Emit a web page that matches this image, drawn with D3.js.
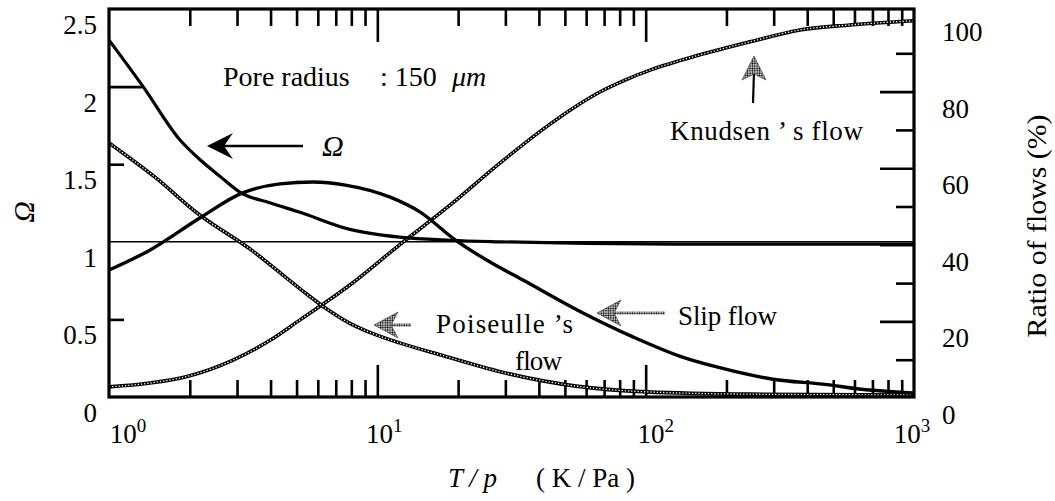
<!DOCTYPE html>
<html>
<head>
<meta charset="utf-8">
<script src="https://cdn.jsdelivr.net/npm/d3@7"></script>
<style>
  html, body { margin: 0; padding: 0; background: #fff; }
  svg { display: block; }
</style>
</head>
<body>
<svg id="chart" width="1055" height="501"></svg>
<script>
// ---------------- DATA ----------------
// x values: T/p (K/Pa), log scale
const xTickValues = [1, 10, 100, 1000];
const xTickExponents = ["0", "1", "2", "3"];
const yLeftTickLabels = [0, 0.5, 1, 1.5, 2, 2.5];
const yRightTickLabels = [0, 20, 40, 60, 80, 100];

// Omega (left axis)
const omegaTp  = [1, 1.34, 1.84, 2.18, 2.6, 3.07, 4.0, 5.15, 7.9, 12.1, 18.7, 28.7, 60, 150, 400, 1000];
const omegaVal = [2.30, 2.00, 1.656, 1.53, 1.42, 1.32, 1.25, 1.19, 1.08, 1.03, 1.01, 1.00, 0.99, 0.985, 0.985, 0.985];

// Slip flow ratio (%), right axis
const slipTp  = [1, 1.42, 2.18, 3.13, 4.34, 5.76, 7.6, 11.1, 14.4, 19.5, 26.3, 34.9, 58.4, 90, 138, 184, 298, 474, 613, 943, 1000];
const slipVal = [33.4, 38.6, 47, 53.5, 55.9, 56.4, 55.6, 52.5, 48.6, 41.3, 35.5, 30.8, 22.2, 15.9, 10.6, 8.1, 4.9, 3.5, 2.4, 1.4, 1.3];

// Knudsen's flow ratio (%), right axis
const knudTp  = [1, 1.42, 1.97, 2.9, 3.97, 5.15, 7.9, 12.1, 18.7, 28.7, 44, 54.5, 67.5, 83.8, 103.8, 159.4, 244.8, 376, 577.6, 1000];
const knudVal = [2.9, 3.9, 5.7, 9.9, 15, 20.4, 29.5, 40, 50.4, 61.4, 71.5, 76, 79.9, 83, 85.6, 89.6, 93, 96.1, 97.4, 98.5];

// Poiseuille's flow ratio (%), right axis
const poisTp  = [1, 1.5, 2.13, 3.4, 5.15, 6.4, 7.9, 9.8, 12.1, 17.1, 31, 55, 101, 245, 1000];
const poisVal = [66.6, 57.4, 48.3, 38.6, 28.5, 23.5, 19.5, 16.6, 14.4, 11.3, 6.3, 3.1, 1.6, 1.0, 0.8];

// ---------------- LAYOUT ----------------
const FONT = "Liberation Serif";
const svg = d3.select("#chart");
const L = 109, R = 914, T = 9, B = 397;
const x  = d3.scaleLog().domain([1, 1000]).range([L, R]);
const yL = d3.scaleLinear().domain([0, 2.5]).range([B, T]);
const yR = d3.scaleLinear().domain([0, 100]).range([398, 15]);

function txt(xp, yp, size) {
  return svg.append("text").attr("x", xp).attr("y", yp)
    .attr("font-family", FONT).attr("font-size", size).attr("fill", "#000");
}

// patterns
const defs = svg.append("defs");
const pat = defs.append("pattern").attr("id", "dots")
  .attr("width", 2.4).attr("height", 2.4).attr("patternUnits", "userSpaceOnUse");
pat.append("rect").attr("width", 2.4).attr("height", 2.4).attr("fill", "#fff");
pat.append("circle").attr("cx", 1.2).attr("cy", 1.2).attr("r", 0.95).attr("fill", "#000");

// ticks via d3 axes (inward)
const minorX = [];
[1, 10, 100].forEach(d => { for (let k = 2; k <= 9; k++) minorX.push(d * k); });
const majorX = [10, 100];

function styleAxis(g) {
  g.select(".domain").remove();
  g.selectAll("line").attr("stroke", "#000").attr("stroke-width", 2.6);
  g.selectAll("text").remove();
}
svg.append("g").attr("transform", `translate(0,${B})`)
  .call(d3.axisBottom(x).tickValues(minorX).tickSize(-17).tickFormat("")).call(styleAxis);
svg.append("g").attr("transform", `translate(0,${B})`)
  .call(d3.axisBottom(x).tickValues(majorX).tickSize(-32).tickFormat("")).call(styleAxis);
svg.append("g").attr("transform", `translate(0,${T})`)
  .call(d3.axisTop(x).tickValues(minorX).tickSize(-17).tickFormat("")).call(styleAxis);
svg.append("g").attr("transform", `translate(0,${T})`)
  .call(d3.axisTop(x).tickValues(majorX).tickSize(-33).tickFormat("")).call(styleAxis);

svg.append("g").attr("transform", `translate(${L},0)`)
  .call(d3.axisLeft(yL).tickValues([0.5, 1.5]).tickSize(-15).tickFormat("")).call(styleAxis);
svg.append("g").attr("transform", `translate(${L},0)`)
  .call(d3.axisLeft(yL).tickValues([2]).tickSize(-33).tickFormat("")).call(styleAxis);

svg.append("g").attr("transform", `translate(${R},0)`)
  .call(d3.axisRight(yR).tickValues([10, 30, 50, 70, 90]).tickSize(-18).tickFormat("")).call(styleAxis);
svg.append("g").attr("transform", `translate(${R},0)`)
  .call(d3.axisRight(yR).tickValues([20, 40, 60, 80]).tickSize(-34).tickFormat("")).call(styleAxis);

// Omega = 1 reference line
svg.append("line").attr("x1", L).attr("x2", R).attr("y1", yL(1)).attr("y2", yL(1))
  .attr("stroke", "#000").attr("stroke-width", 1.6);

// curves
const lineL = d3.line().x(d => x(d[0])).y(d => yL(d[1])).curve(d3.curveMonotoneX);
const lineR = d3.line().x(d => x(d[0])).y(d => yR(d[1])).curve(d3.curveMonotoneX);
const zip = (a, b) => a.map((v, i) => [v, b[i]]);

function beaded(path) {
  svg.append("path").attr("d", path).attr("fill", "none")
    .attr("stroke", "#000").attr("stroke-width", 3.6);
  svg.append("path").attr("d", path).attr("fill", "none")
    .attr("stroke", "#fff").attr("stroke-width", 1.3).attr("stroke-dasharray", "1.3 1.9");
}
beaded(lineR(zip(knudTp, knudVal)));
beaded(lineR(zip(poisTp, poisVal)));

svg.append("path").attr("d", lineR(zip(slipTp, slipVal))).attr("fill", "none")
  .attr("stroke", "#000").attr("stroke-width", 3.4).attr("stroke-linejoin", "round");
svg.append("path").attr("d", lineL(zip(omegaTp, omegaVal))).attr("fill", "none")
  .attr("stroke", "#000").attr("stroke-width", 3.2).attr("stroke-linejoin", "round");

// frame
svg.append("rect").attr("x", L).attr("y", T).attr("width", R - L).attr("height", B - T)
  .attr("fill", "none").attr("stroke", "#000").attr("stroke-width", 3.2);

// tick labels
const xNudge = [19, 7, 10, -2];
xTickValues.forEach((v, i) => {
  const t = txt(x(v) + xNudge[i], 443, 27).attr("text-anchor", "middle");
  t.append("tspan").text("10");
  t.append("tspan").attr("dy", -11).attr("font-size", 19).text(xTickExponents[i]);
});
yLeftTickLabels.forEach(v => {
  txt(97, yL(v) + 25, 27).attr("text-anchor", "end").text(v);
});
yRightTickLabels.forEach(v => {
  txt(942, yR(v) + 26, 27).attr("text-anchor", "start").text(v);
});

// axis titles
txt(0, 0, 30).attr("transform", "translate(34,212) rotate(-90)")
  .attr("text-anchor", "middle").attr("font-style", "italic").text("Ω");
txt(0, 0, 28).attr("transform", "translate(1046,226) rotate(-90)")
  .attr("text-anchor", "middle")
  .attr("textLength", 223).attr("lengthAdjust", "spacingAndGlyphs").text("Ratio of flows (%)");
const xt = txt(448, 487, 27);
xt.append("tspan").attr("font-style", "italic").text("T / p");
xt.append("tspan").attr("x", 536).text("( K / Pa )");

// annotations
const pr = txt(223, 86, 28);
pr.append("tspan").text("Pore radius");
pr.append("tspan").attr("x", 380).text(": 150");
pr.append("tspan").attr("x", 452).attr("font-style", "italic").text("μm");

// Omega arrow
svg.append("line").attr("x1", 222).attr("x2", 303).attr("y1", 146).attr("y2", 146)
  .attr("stroke", "#000").attr("stroke-width", 2.6);
svg.append("path").attr("d", "M207,146 L233,133 L224,146 L233,159 Z").attr("fill", "#000");
txt(322, 156, 30).attr("font-style", "italic").text("Ω");

// Slip arrow
svg.append("line").attr("x1", 612).attr("x2", 665).attr("y1", 313).attr("y2", 313)
  .attr("stroke", "url(#dots)").attr("stroke-width", 3.2);
svg.append("path").attr("d", "M597,313 L621,300 L614,313 L621,326 Z").attr("fill", "url(#dots)")
  .attr("stroke", "#333").attr("stroke-width", 0.6);
txt(678, 325, 27).attr("textLength", 99).attr("lengthAdjust", "spacing").text("Slip flow");

// Poiseuille arrow
svg.append("line").attr("x1", 390).attr("x2", 411).attr("y1", 325).attr("y2", 325)
  .attr("stroke", "url(#dots)").attr("stroke-width", 3.2);
svg.append("path").attr("d", "M374,325 L398,312 L391,325 L398,338 Z").attr("fill", "url(#dots)")
  .attr("stroke", "#333").attr("stroke-width", 0.6);
txt(436, 333, 27).attr("textLength", 137).attr("lengthAdjust", "spacing").text("Poiseulle ’s");
txt(515, 370, 27).attr("textLength", 47).attr("lengthAdjust", "spacing").text("flow");

// Knudsen arrow
svg.append("line").attr("x1", 754).attr("x2", 753).attr("y1", 72).attr("y2", 103)
  .attr("stroke", "#000").attr("stroke-width", 2.2);
svg.append("path").attr("d", "M754,56 L766,80 L754,74 L742,80 Z").attr("fill", "url(#dots)")
  .attr("stroke", "#333").attr("stroke-width", 0.6);
txt(670, 140, 27).attr("textLength", 193).attr("lengthAdjust", "spacing").text("Knudsen ’ s flow");
</script>
</body>
</html>
